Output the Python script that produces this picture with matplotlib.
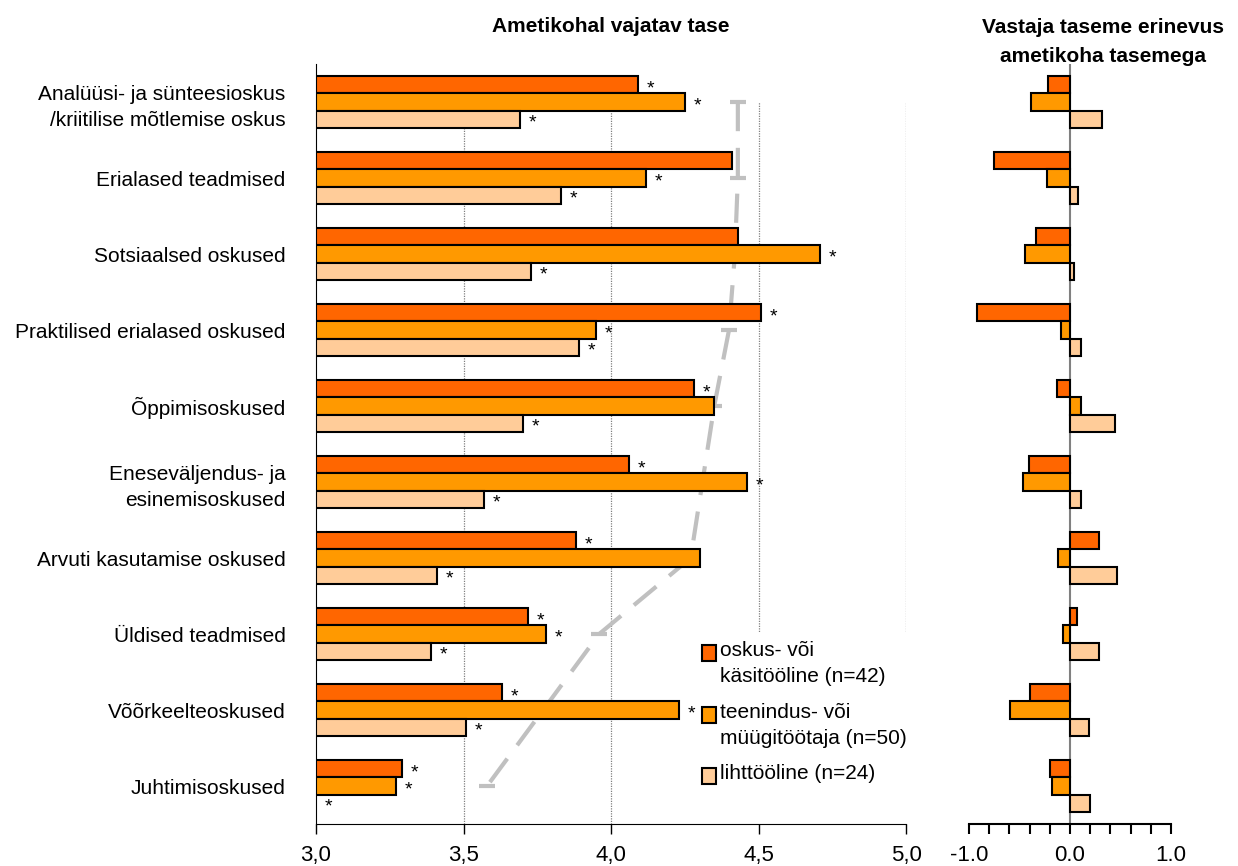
import numpy as np
import matplotlib
matplotlib.use("Agg")
from matplotlib import pyplot as plt
from matplotlib.patches import Rectangle

plt.rcParams['font.family'] = ['Liberation Sans', 'DejaVu Sans']

# Data

categories = ['Analüüsi- ja sünteesioskus\n/kriitilise mõtlemise oskus',
              'Erialased teadmised',
              'Sotsiaalsed oskused',
              'Praktilised erialased oskused',
              'Õppimisoskused',
              'Eneseväljendus- ja\nesinemisoskused',
              'Arvuti kasutamise oskused',
              'Üldised teadmised',
              'Võõrkeelteoskused',
              'Juhtimisoskused']

series_names = ['oskus- või\nkäsitööline (n=42)',
                'teenindus- või\nmüügitöötaja (n=50)',
                'lihttööline (n=24)']

oskus = [4.09, 4.41, 4.43, 4.51, 4.28, 4.06, 3.88, 3.72, 3.63, 3.29]
teenindus = [4.25, 4.12, 4.71, 3.95, 4.35, 4.46, 4.30, 3.78, 4.23, 3.27]
liht = [3.69, 3.83, 3.73, 3.89, 3.70, 3.57, 3.41, 3.39, 3.51, 2.98]

star_oskus = [1, 0, 0, 1, 1, 1, 1, 1, 1, 1]
star_teenindus = [1, 1, 1, 1, 0, 1, 0, 1, 1, 1]
star_liht = [1, 1, 1, 1, 1, 1, 1, 1, 1, 1]

trend = [4.43, 4.43, 4.42, 4.40, 4.35, 4.31, 4.27, 3.96, 3.77, 3.58]

diff_oskus = [-0.22, -0.75, -0.34, -0.92, -0.13, -0.41, 0.29, 0.07, -0.40, -0.20]
diff_teenindus = [-0.39, -0.23, -0.45, -0.09, 0.11, -0.47, -0.12, -0.07, -0.59, -0.18]
diff_liht = [0.32, 0.08, 0.04, 0.11, 0.45, 0.11, 0.47, 0.29, 0.19, 0.20]

left_ticks = [3.0, 3.5, 4.0, 4.5, 5.0]
left_ticklabels = ['3,0', '3,5', '4,0', '4,5', '5,0']
right_ticks = [-1.0, 0.0, 1.0]
right_ticklabels = ['-1.0', '0.0', '1.0']

colors = ['#FF6600', '#FF9900', '#FFCC99']

W, H = 1238, 866

def fx(x):
    return x / W

def fy(y):
    return 1 - y / H

fig = plt.figure(figsize=(W / 100, H / 100), dpi=100)

ax1 = fig.add_axes([fx(316), fy(824), (906 - 316) / W, 760 / H])
ax2 = fig.add_axes([fx(969), fy(824), (1171 - 969) / W, 760 / H])

y = np.arange(len(categories))
bh = 0.225
offsets = [-bh, 0, bh]

# Left panel: required level

all_vals = [oskus, teenindus, liht]
all_stars = [star_oskus, star_teenindus, star_liht]

for vals, stars, off, col in zip(all_vals, all_stars, offsets, colors):
    ax1.barh(y + off, vals, height=bh, left=0, color=col, edgecolor='black',
             linewidth=1.5, zorder=2)
    for yi, v, s in zip(y, vals, stars):
        if s:
            ax1.annotate('*', (max(v, 3.0), yi + off), xytext=(9, -3),
                         textcoords='offset points', ha='center', va='center',
                         fontsize=14, zorder=4)

ax1.plot(trend, y, color='#c0c0c0', lw=3, dashes=(7, 4), marker='_',
         markersize=12, mew=3, zorder=1.5)

for g in left_ticks[1:]:
    ax1.axvline(g, ymin=0, ymax=0.95, color='#808080', lw=0.9,
                linestyle=(0, (1, 1)), zorder=0.5)

ax1.set_xlim(3.0, 5.0)
ax1.set_ylim(len(categories) - 0.5, -0.5)
ax1.set_xticks(left_ticks)
ax1.set_xticklabels(left_ticklabels, fontsize=16)
ax1.tick_params(axis='x', direction='out', length=7, width=1, pad=8)
ax1.set_yticks(y)
ax1.set_yticklabels(categories, fontsize=15, multialignment='right',
                    linespacing=1.45)
ax1.tick_params(axis='y', length=0, pad=22)
ax1.spines['top'].set_visible(False)
ax1.spines['right'].set_visible(False)

# legend box drawn like the Excel one
ax1.add_patch(Rectangle((fx(695), fy(824)), (910 - 695) / W, (824 - 632) / H,
                        transform=fig.transFigure, facecolor='white',
                        edgecolor='none', zorder=1.8, clip_on=False))
leg_y = [645, 707, 768]
for name, col, ly in zip(series_names, colors, leg_y):
    ax1.add_patch(Rectangle((fx(702), fy(ly + 16)), 14 / W, 16 / H,
                            transform=fig.transFigure, facecolor=col,
                            edgecolor='black', linewidth=1.5, zorder=3,
                            clip_on=False))
    fig.text(fx(720), fy(ly - 4), name, ha='left', va='top', fontsize=15,
             linespacing=1.5)

# Right panel: difference

all_diffs = [diff_oskus, diff_teenindus, diff_liht]
for vals, off, col in zip(all_diffs, offsets, colors):
    ax2.barh(y + off, vals, height=bh, left=0, color=col, edgecolor='black',
             linewidth=1.5, zorder=2)

ax2.axvline(0, color='#808080', lw=1.5, zorder=1)
ax2.set_xlim(-1.0, 1.0)
ax2.set_ylim(len(categories) - 0.5, -0.5)
ax2.set_xticks(right_ticks)
ax2.set_xticklabels(right_ticklabels, fontsize=16)
ax2.set_xticks(np.arange(-1.0, 1.01, 0.2), minor=True)
ax2.tick_params(axis='x', which='both', direction='out', length=7, width=1.5,
                pad=8)
ax2.set_yticks([])
for s in ['top', 'right', 'left']:
    ax2.spines[s].set_visible(False)
ax2.spines['bottom'].set_linewidth(1.5)

fig.text(fx(611), fy(27), 'Ametikohal vajatav tase', ha='center', va='center',
         fontsize=15, fontweight='bold')
fig.text(fx(1103), fy(42), 'Vastaja taseme erinevus\nametikoha tasemega',
         ha='center', va='center', fontsize=15, fontweight='bold',
         linespacing=1.65)

fig.savefig('out.png', dpi=100)
